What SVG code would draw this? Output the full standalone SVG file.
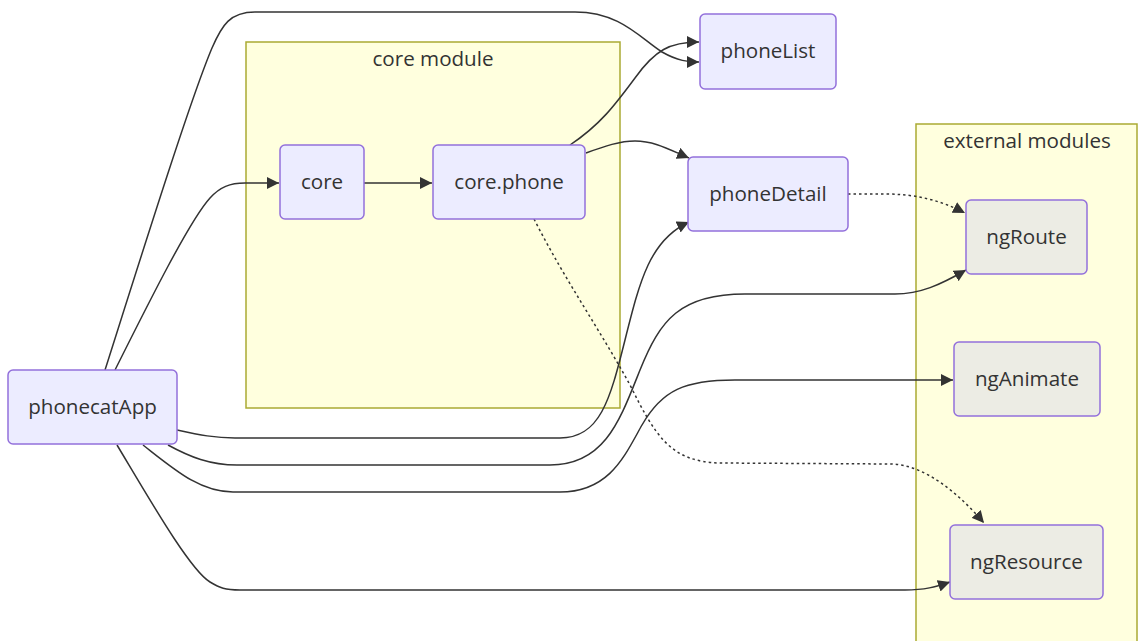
<svg xmlns="http://www.w3.org/2000/svg" width="1141" height="641" viewBox="0 0 1141 641">
<style>
.cluster{fill:#ffffde;stroke:#aaaa33;stroke-width:1.5}
.node rect{fill:#ececff;stroke:#9370db;stroke-width:1.5}
.node.ext rect{fill:#ececE4}
text{font-family:"Open Sans","Noto Sans",sans-serif;font-size:20.6px;fill:#333;text-anchor:middle}
.edge{fill:none;stroke:#333;stroke-width:1.5}
.dot{stroke-dasharray:2.5 3}
</style>
<defs>
<marker id="arr" markerUnits="userSpaceOnUse" markerWidth="12" markerHeight="12" viewBox="0 0 10 10" refX="10" refY="5" orient="auto">
<path d="M0,0 L10,5 L0,10 z" fill="#333"/>
</marker>
</defs>
<rect width="1141" height="641" fill="#fff"/>
<g id="cluster-core">
<rect class="cluster" x="246" y="42" width="374" height="366"/>
<text x="433" y="66">core module</text>
</g>
<g id="cluster-external">
<rect class="cluster" x="916" y="124" width="221" height="530"/>
<text x="1027" y="148">external modules</text>
</g>
<g id="edges">
<path class="edge" marker-end="url(#arr)" d="M105,370 C140,260 190,100 212,48 C222,25 230,12 255,12 L575,12 C620,12 640,38 662,52 C678,61 688,62 699,62"/>
<path class="edge" marker-end="url(#arr)" d="M570,145 C600,125 615,105 635,78 C655,50 670,42 699,42"/>
<path class="edge" marker-end="url(#arr)" d="M115,370 C150,300 190,220 210,198 C220,187 230,183 245,183 L279,183"/>
<path class="edge" marker-end="url(#arr)" d="M364,183 L432,183"/>
<path class="edge" marker-end="url(#arr)" d="M586,153 C605,146 620,141 635,141 C655,141 670,150 689,158"/>
<path class="edge dot" marker-end="url(#arr)" d="M848,194 L885,194 C915,194 940,200 965,213"/>
<path class="edge dot" marker-end="url(#arr)" d="M534,219 C565,280 600,330 630,385 C655,435 670,462 720,463 L890,464 C925,464 960,495 984,523"/>
<path class="edge" marker-end="url(#arr)" d="M177,430 C200,435 215,438 235,438 L560,438 C600,438 610,400 625,340 C640,280 650,240 689,222"/>
<path class="edge" marker-end="url(#arr)" d="M168,445 C190,457 210,465 237,465 L550,465 C605,465 620,420 640,370 C660,320 680,294 745,294 L895,294 C920,294 940,285 966,270"/>
<path class="edge" marker-end="url(#arr)" d="M143,445 C175,470 200,492 233,492 L560,492 C610,492 625,455 642,425 C662,390 685,380 735,380 L953,380"/>
<path class="edge" marker-end="url(#arr)" d="M117,445 C150,500 190,570 210,582 C220,588 225,590 240,590 L905,590 C925,590 935,587 950,582"/>
</g>
<g id="phonecatApp" class="node"><rect x="8" y="370" width="169" height="74" rx="5"/><text x="92.5" y="414">phonecatApp</text></g>
<g id="core" class="node"><rect x="280" y="145" width="84" height="74" rx="5"/><text x="322" y="189">core</text></g>
<g id="core.phone" class="node"><rect x="433" y="145" width="152" height="74" rx="5"/><text x="509" y="189">core.phone</text></g>
<g id="phoneList" class="node"><rect x="700" y="14" width="136" height="75" rx="5"/><text x="768" y="58">phoneList</text></g>
<g id="phoneDetail" class="node"><rect x="688" y="157" width="160" height="74" rx="5"/><text x="768" y="201">phoneDetail</text></g>
<g id="ngRoute" class="node ext"><rect x="966" y="200" width="121" height="74" rx="5"/><text x="1026.5" y="244">ngRoute</text></g>
<g id="ngAnimate" class="node ext"><rect x="954" y="342" width="146" height="74" rx="5"/><text x="1027" y="386">ngAnimate</text></g>
<g id="ngResource" class="node ext"><rect x="950" y="525" width="153" height="74" rx="5"/><text x="1026.5" y="569">ngResource</text></g>
</svg>
